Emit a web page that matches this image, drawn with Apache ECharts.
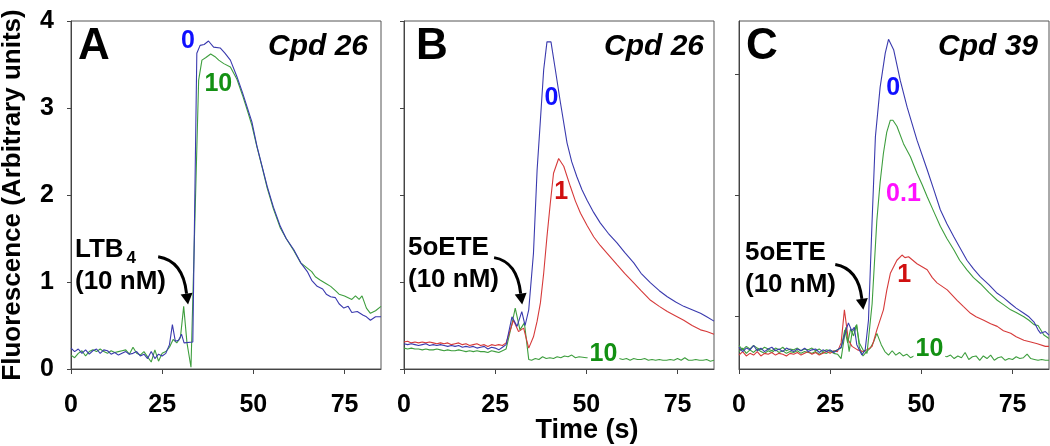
<!DOCTYPE html>
<html>
<head>
<meta charset="utf-8">
<script src="https://cdn.jsdelivr.net/npm/echarts@6/dist/echarts.min.js"></script>
<style>
  html, body { margin: 0; padding: 0; background: #fff; }
  #chart { width: 1050px; height: 446px; }
</style>
</head>
<body>
<div id="chart"></div>
<script>
(function() {
	var FONT = '"Liberation Sans", Arial, sans-serif';

	// x ticks and y ticks
	var xTicks = [0, 25, 50, 75];
	var yTicks = [0, 1, 2, 3, 4];
	// panel C has its own (unlabelled) tick spacing
	var yTicksC = [0.61, 2.0, 3.39];

	// panel A (LTB4, Cpd 26)
	var aBlue = [[0,0.24],[1,0.2],[2,0.23],[3,0.18],[4,0.22],[5,0.17],[6,0.21],[7,0.23],[8,0.18],[9,0.22],[10,0.21],[11,0.17],[12,0.19],[13,0.16],[14,0.18],[15,0.2],[16,0.17],[17,0.18],[18,0.2],[19,0.15],[20,0.17],[21,0.12],[22,0.2],[23,0.12],[24,0.17],[25,0.15],[26,0.18],[27,0.28],[27.8,0.51],[28.6,0.32],[29.5,0.33],[30.3,0.4],[31,0.3],[33.4,0.31],[34.5,3.63],[35.4,3.72],[36.5,3.73],[37.7,3.77],[39.1,3.7],[40.9,3.69],[42.2,3.63],[43.7,3.55],[45.5,3.36],[47,3.18],[48.3,3.01],[49.6,2.84],[51,2.56],[52.4,2.33],[53.8,2.1],[55.5,1.86],[57.4,1.64],[59,1.5],[61.1,1.37],[63,1.22],[64.8,1.12],[66,1.02],[67.5,0.95],[69,0.92],[70,0.86],[71.2,0.83],[72.5,0.82],[73.5,0.75],[74.8,0.7],[76,0.72],[77,0.65],[78.5,0.66],[80,0.62],[81,0.6],[82.1,0.56],[83.5,0.6],[85,0.6]];
	var aGreen = [[0,0.16],[1,0.13],[2,0.18],[3,0.21],[4,0.15],[5,0.2],[6,0.22],[7,0.2],[8,0.23],[9,0.2],[10,0.18],[11,0.21],[12,0.19],[13,0.2],[14,0.21],[15,0.22],[16,0.17],[17,0.25],[18,0.18],[19,0.16],[20,0.2],[21,0.14],[22,0.08],[23,0.22],[24,0.09],[25,0.18],[26,0.2],[27,0.25],[28,0.34],[29,0.3],[30,0.36],[30.9,0.72],[31.8,0.3],[32.9,0.02],[35,3.32],[35.9,3.55],[37,3.58],[38.3,3.62],[39.5,3.59],[40.5,3.55],[41.9,3.51],[43.7,3.47],[45.5,3.33],[47,3.15],[48.3,2.98],[49.6,2.8],[51,2.55],[52.4,2.32],[53.8,2.08],[55.5,1.84],[57.4,1.62],[59,1.5],[61.1,1.36],[63,1.22],[64.8,1.16],[66,1.12],[67,1.06],[68.4,1.02],[70,0.98],[71.2,0.95],[72.5,0.9],[73.5,0.86],[75,0.84],[76,0.82],[77,0.8],[78,0.84],[79,0.8],[79.8,0.84],[81,0.7],[82.1,0.64],[83.5,0.67],[85,0.72]];

	// panel B (5oETE, Cpd 26)
	var bBlue = [[0,0.29],[1,0.28],[2,0.29],[3,0.28],[4,0.27],[5,0.28],[6,0.29],[7,0.27],[8,0.28],[9,0.27],[10,0.28],[11,0.27],[12,0.26],[13,0.27],[14,0.26],[15,0.27],[16,0.25],[17,0.26],[18,0.25],[19,0.26],[20,0.24],[21,0.25],[22,0.26],[23,0.23],[24,0.25],[25,0.24],[26,0.22],[27,0.25],[28,0.28],[29.6,0.6],[31,0.49],[32.3,0.66],[33.2,0.5],[34.2,0.68],[35.5,1.33],[36.5,2.29],[37.4,2.86],[38.3,3.44],[39.2,3.76],[40.3,3.76],[41.5,3.44],[42.9,3.06],[44.7,2.6],[46,2.38],[47.4,2.21],[48.8,2.06],[50.2,1.94],[52,1.8],[53.8,1.68],[56,1.56],[58.4,1.45],[60.5,1.34],[63,1.22],[65,1.1],[67.6,0.99],[70,0.9],[72.2,0.83],[74.5,0.77],[76.7,0.72],[79,0.68],[81.3,0.64],[83,0.6],[85,0.55]];
	var bRed = [[0,0.31],[1,0.32],[2,0.3],[3,0.31],[4,0.3],[5,0.31],[6,0.3],[7,0.31],[8,0.3],[9,0.29],[10,0.3],[11,0.29],[12,0.3],[13,0.28],[14,0.29],[15,0.3],[16,0.28],[17,0.29],[18,0.27],[19,0.28],[20,0.29],[21,0.27],[22,0.28],[23,0.26],[24,0.28],[25,0.27],[26,0.28],[27,0.27],[28,0.3],[30,0.56],[31.4,0.43],[32.8,0.47],[34.2,0.24],[35.5,0.37],[36.5,0.55],[37.4,0.76],[38.3,1.1],[39.2,1.52],[40.1,1.9],[41,2.25],[42.4,2.42],[43.8,2.33],[45.6,2.1],[47,1.93],[48.4,1.79],[50.2,1.65],[52,1.52],[53.8,1.42],[55.7,1.33],[58.4,1.2],[60.5,1.1],[63,0.99],[65,0.9],[67.6,0.79],[70,0.72],[72.2,0.66],[74.5,0.61],[76.7,0.56],[79,0.5],[81.3,0.45],[83,0.43],[85,0.4]];
	var bGreen = [[0,0.24],[1,0.23],[2,0.24],[3,0.23],[4,0.23],[5,0.22],[6,0.23],[7,0.22],[8,0.22],[9,0.23],[10,0.22],[11,0.21],[12,0.22],[13,0.21],[14,0.21],[15,0.22],[16,0.21],[17,0.2],[18,0.21],[19,0.2],[20,0.21],[21,0.2],[22,0.2],[23,0.19],[24,0.21],[25,0.2],[26,0.19],[27,0.21],[28,0.23],[29.5,0.5],[30.5,0.7],[31.8,0.45],[33,0.53],[34.2,0.11],[35,0.1],[36,0.12],[37,0.11],[38,0.14],[39,0.12],[40,0.13],[41,0.12],[42,0.14],[43,0.13],[44,0.15],[45,0.14],[46,0.16],[47,0.13],[48,0.14],[50,0.13],[52,0.13],[54,0.12],[56,0.12],[58,0.13],[59,0.12],[60,0.11],[61,0.12],[62,0.1],[63,0.12],[64,0.11],[65,0.11],[66,0.12],[67,0.1],[68,0.11],[69,0.1],[70,0.11],[71,0.1],[72,0.1],[73,0.11],[74,0.1],[75,0.12],[76,0.1],[77,0.13],[78,0.1],[79,0.1],[80,0.11],[81,0.1],[82,0.1],[83,0.11],[84,0.09],[85,0.1]];

	// panel C (5oETE, Cpd 39)
	var cBlue = [[0,0.25],[1,0.2],[2,0.24],[3,0.22],[4,0.27],[5,0.21],[6,0.24],[7,0.2],[8,0.23],[9,0.25],[10,0.21],[11,0.23],[12,0.2],[13,0.24],[14,0.22],[15,0.2],[16,0.23],[17,0.21],[18,0.24],[19,0.2],[20,0.22],[21,0.23],[22,0.19],[23,0.22],[24,0.2],[25,0.22],[26,0.19],[27,0.22],[28,0.25],[29,0.4],[30,0.53],[30.9,0.44],[31.6,0.48],[32.3,0.28],[33.7,0.16],[34.6,0.22],[35.5,0.56],[36.5,1.71],[37.4,2.67],[38.7,3.24],[40.1,3.63],[41,3.79],[42.4,3.67],[44.2,3.32],[46.1,3.01],[48.8,2.63],[51.6,2.29],[53.5,2.05],[55.2,1.83],[57,1.67],[58.9,1.52],[60.5,1.4],[62.5,1.25],[64.3,1.15],[66.2,1.06],[68.5,0.97],[70.8,0.87],[72.5,0.82],[74.5,0.75],[76,0.7],[78.1,0.64],[79.5,0.6],[80.9,0.54],[82,0.45],[82.7,0.41],[84,0.43],[85,0.39]];
	var cGreenLow = [[0,0.27],[1,0.22],[2,0.26],[3,0.23],[4,0.27],[5,0.24],[6,0.22],[7,0.25],[8,0.23],[9,0.21],[10,0.24],[11,0.22],[12,0.25],[13,0.21],[14,0.23],[15,0.22],[16,0.24],[17,0.21],[18,0.23],[19,0.22],[20,0.24],[21,0.21],[22,0.23],[23,0.2],[24,0.22],[25,0.21],[26,0.2],[27,0.22],[28,0.24],[29,0.45],[29.8,0.3],[30.6,0.46],[31.4,0.38],[32.2,0.5],[33,0.3],[34,0.22],[35.1,0.18],[36.5,0.75],[37.8,1.71],[38.7,2.15],[39.6,2.48],[40.5,2.72],[41.5,2.86],[42.2,2.86],[43.3,2.79],[45.1,2.59],[47,2.44],[48.8,2.25],[50.2,2.12],[51.6,1.98],[53.5,1.8],[55.2,1.64],[57,1.5],[58.9,1.37],[60.5,1.25],[62.5,1.14],[64.3,1.05],[66.2,0.98],[68.5,0.88],[70.8,0.79],[72.5,0.74],[74.5,0.68],[76,0.65],[78.1,0.6],[79.5,0.56],[80.9,0.51],[82,0.5],[83.6,0.39],[85,0.35]];
	var cRed = [[0,0.16],[1,0.2],[2,0.15],[3,0.18],[4,0.16],[5,0.2],[6,0.15],[7,0.18],[8,0.17],[9,0.19],[10,0.16],[11,0.18],[12,0.17],[13,0.15],[14,0.18],[15,0.17],[16,0.19],[17,0.16],[18,0.18],[19,0.2],[20,0.17],[21,0.19],[22,0.16],[23,0.18],[24,0.2],[25,0.18],[26,0.21],[27,0.2],[28,0.3],[28.9,0.68],[30,0.33],[31,0.26],[32.5,0.22],[34,0.2],[35.1,0.22],[36.5,0.26],[37.8,0.45],[39.6,0.68],[40.5,0.9],[41.5,1.1],[43.3,1.25],[44.7,1.31],[45.5,1.28],[46.5,1.29],[48.8,1.21],[51.6,1.14],[53,1.05],[54.3,0.99],[57.1,0.91],[59.8,0.79],[61.5,0.72],[63.5,0.64],[65,0.6],[67.1,0.56],[69,0.52],[70.8,0.49],[72.5,0.44],[74.5,0.41],[76,0.37],[78.1,0.33],[80,0.31],[81.8,0.29],[84,0.26],[85,0.26]];
	var cGreenHigh = [[0,0.2],[1,0.24],[2,0.18],[3,0.22],[4,0.19],[5,0.23],[6,0.2],[7,0.18],[8,0.21],[9,0.19],[10,0.22],[11,0.19],[12,0.21],[13,0.18],[14,0.2],[15,0.19],[16,0.21],[17,0.18],[18,0.2],[19,0.19],[20,0.18],[21,0.2],[22,0.17],[23,0.19],[24,0.18],[25,0.2],[26,0.18],[27,0.17],[28,0.12],[29.3,0.48],[30.2,0.2],[31,0.42],[32.3,0.51],[33,0.25],[34,0.15],[35,0.2],[36,0.24],[37,0.32],[37.8,0.41],[39,0.28],[40,0.2],[41,0.16],[42,0.21],[43,0.16],[44,0.19],[45,0.15],[46,0.17],[47,0.13],[48,0.15],[50,0.14],[52,0.15],[54,0.13],[56,0.15],[57,0.14],[58,0.16],[59,0.12],[60,0.15],[61,0.13],[62,0.19],[63,0.11],[64,0.14],[65,0.15],[66,0.1],[67,0.15],[68,0.12],[69,0.16],[70,0.1],[71,0.13],[72,0.14],[73,0.1],[74,0.12],[75,0.11],[76,0.14],[77,0.12],[78,0.13],[79,0.17],[80,0.12],[81,0.11],[82,0.1],[83,0.11],[84,0.1],[85,0.1]];

	var BLUE = '#3a3aae', GREEN = '#3e9e3e', RED = '#d63a3a';

	var myChart = echarts.init(document.getElementById('chart'));

	function grid(left) {
		return { left: left, top: 21, width: 310, height: 348, show: true, borderColor: '#555', borderWidth: 1, containLabel: false };
	}
	function xAxis(i) {
		return {
			gridIndex: i, type: 'value', min: 0, max: 85, interval: 25,
			axisLine: { show: true, onZero: false, lineStyle: { color: '#444', width: 1 } },
			axisTick: { show: true, length: 5, customValues: xTicks, lineStyle: { color: '#444' } },
			axisLabel: { customValues: xTicks, fontSize: 25, fontWeight: 'bold', color: '#000', fontFamily: FONT, margin: 24 },
			splitLine: { show: false }
		};
	}
	function yAxis(i, labels, ticks) {
		var tick = { show: true, length: 4, lineStyle: { color: '#444' } };
		if (ticks) tick.customValues = ticks;
		return {
			gridIndex: i, type: 'value', min: 0, max: 4, interval: 1,
			axisLine: { show: true, onZero: false, lineStyle: { color: '#444', width: 1 } },
			axisTick: tick,
			axisLabel: { show: labels, fontSize: 25, fontWeight: 'bold', color: '#000', fontFamily: FONT, margin: 17 },
			splitLine: { show: false }
		};
	}
	function line(i, data, color) {
		return {
			type: 'line', xAxisIndex: i, yAxisIndex: i, data: data,
			showSymbol: false, symbol: 'none', silent: true,
			lineStyle: { color: color, width: 1.1 }
		};
	}

	myChart.setOption({
		animation: false,
		grid: [grid(71), grid(404), grid(739)],
		xAxis: [xAxis(0), xAxis(1), xAxis(2)],
		yAxis: [yAxis(0, true), yAxis(1, false), yAxis(2, false, yTicksC)],
		series: [
			line(0, aGreen, GREEN), line(0, aBlue, BLUE),
			line(1, bGreen, GREEN), line(1, bRed, RED), line(1, bBlue, BLUE),
			line(2, cGreenHigh, GREEN), line(2, cRed, RED), line(2, cGreenLow, GREEN), line(2, cBlue, BLUE)
		]
	});

	function px(g, x, y) {
		return myChart.convertToPixel({ gridIndex: g }, [x, y]);
	}

	function text(x, y, str, font, color, align, extra) {
		var st = { text: str, font: font, fill: color, align: align || 'center', verticalAlign: 'middle' };
		if (extra) for (var k in extra) st[k] = extra[k];
		return { type: 'text', x: x, y: y, z: 100, style: st };
	}

	// curve label placed at a data point
	function tag(g, x, y, str, color, bg) {
		var p = px(g, x, y);
		var extra = bg ? { backgroundColor: '#fff', padding: [0, 2] } : null;
		return text(p[0], p[1], str, 'bold 25px ' + FONT, color, 'center', extra);
	}

	// curved arrow from (sx,sy) to tip (tx,ty), in data units
	function arrow(g, sx, sy, tx, ty) {
		var s = px(g, sx, sy), t = px(g, tx, ty);
		var e = [t[0] - 1.5, t[1] - 11];
		var c = [t[0] - 5, s[1] + 4];
		var dx = t[0] - e[0], dy = t[1] - e[1];
		var len = Math.sqrt(dx * dx + dy * dy);
		var nx = -dy / len, ny = dx / len;
		return [{
			type: 'bezierCurve', z: 100,
			shape: { x1: s[0], y1: s[1], x2: e[0], y2: e[1], cpx1: c[0], cpy1: c[1] },
			style: { stroke: '#000', lineWidth: 3, fill: null }
		}, {
			type: 'polygon', z: 100,
			shape: { points: [[t[0], t[1]], [e[0] + nx * 6, e[1] + ny * 6], [e[0] - nx * 6, e[1] - ny * 6]] },
			style: { fill: '#000' }
		}];
	}

	var bigFont = 'bold 44px ' + FONT;
	var cpdFont = 'italic bold 30px ' + FONT;
	var noteFont = 'bold 26px ' + FONT;

	// width of "LTB" so the subscript sits right after it
	var ctx = document.createElement('canvas').getContext('2d');
	ctx.font = noteFont;
	var ltbW = ctx.measureText('LTB').width;

	var g = [
		// panel letters and compound names
		text(78, 47, 'A', bigFont, '#000', 'left'),
		text(416, 47, 'B', bigFont, '#000', 'left'),
		text(746, 47, 'C', bigFont, '#000', 'left'),
		text(368, 47, 'Cpd 26', cpdFont, '#000', 'right'),
		text(704, 47, 'Cpd 26', cpdFont, '#000', 'right'),
		text(1038, 47, 'Cpd 39', cpdFont, '#000', 'right'),

		// stimulus notes
		text(75, 250, 'LTB', noteFont, '#000', 'left'),
		text(75 + ltbW + 3, 258, '4', 'bold 17px ' + FONT, '#000', 'left'),
		text(75, 282, '(10 nM)', noteFont, '#000', 'left'),
		text(408, 248, '5oETE', noteFont, '#000', 'left'),
		text(408, 280, '(10 nM)', noteFont, '#000', 'left'),
		text(745, 253, '5oETE', noteFont, '#000', 'left'),
		text(745, 285, '(10 nM)', noteFont, '#000', 'left'),

		// curve labels
		tag(0, 32.1, 3.77, '0', '#1010ff'),
		tag(0, 40.4, 3.28, '10', '#139013'),
		tag(1, 40.4, 3.11, '0', '#1010ff'),
		tag(1, 43.1, 2.03, '1', '#d01010'),
		tag(1, 54.7, 0.17, '10', '#139013', true),
		tag(2, 42.3, 3.23, '0', '#1010ff'),
		tag(2, 45.1, 2.01, '0.1', '#ff10ff'),
		tag(2, 45.3, 1.08, '1', '#d01010'),
		tag(2, 52.2, 0.23, '10', '#139013', true),

		// axis titles
		{ type: 'text', x: 13, y: 195, rotation: Math.PI / 2, z: 100,
		  style: { text: 'Fluorescence (Arbitrary units)', font: 'bold 26px ' + FONT, fill: '#000', align: 'center', verticalAlign: 'middle' } },
		text(587, 431, 'Time (s)', 'bold 27px ' + FONT, '#000', 'center')
	];
	g = g.concat(arrow(0, 23.9, 1.29, 32.1, 0.74));
	g = g.concat(arrow(1, 24.7, 1.28, 32.4, 0.74));
	g = g.concat(arrow(2, 26.4, 1.20, 34.1, 0.68));

	myChart.setOption({ graphic: g });
}).call(this);
</script>
</body>
</html>
